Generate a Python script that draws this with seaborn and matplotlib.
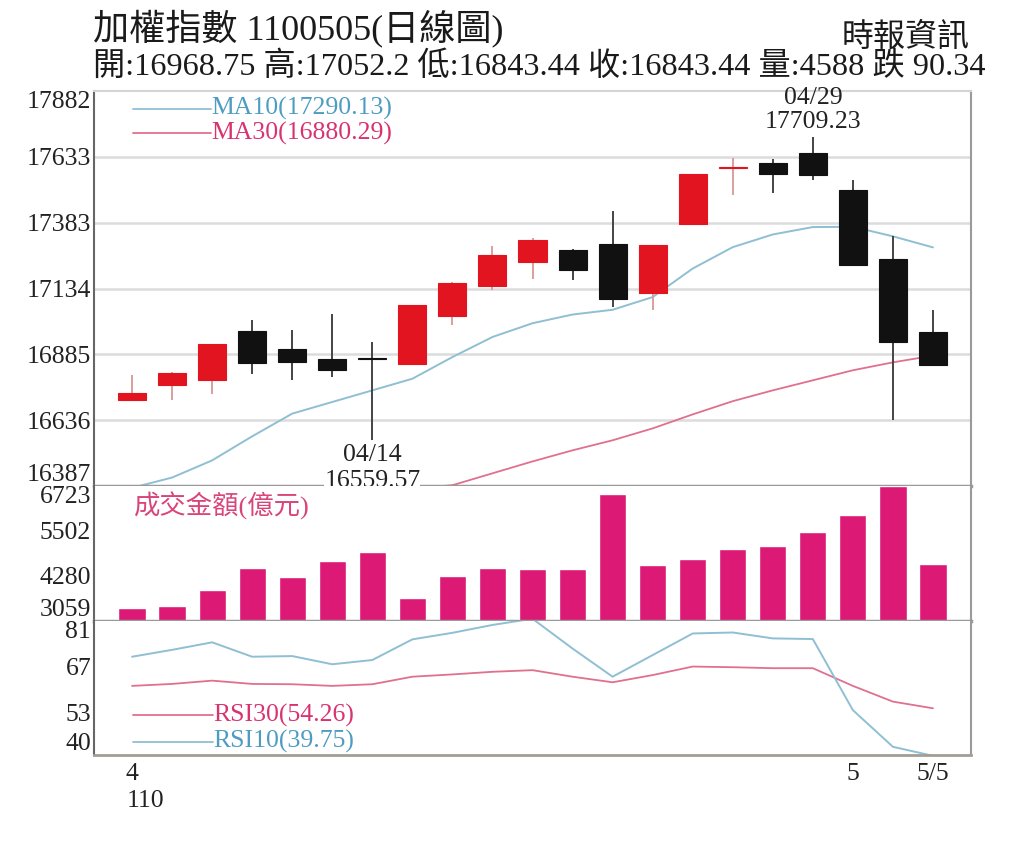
import matplotlib
matplotlib.use('Agg')
import matplotlib.pyplot as plt
import seaborn as sns
import numpy as np

# ---------------- data ----------------
dates = ['04/06', '04/07', '04/08', '04/09', '04/12', '04/13', '04/14', '04/15',
         '04/16', '04/19', '04/20', '04/21', '04/22', '04/23', '04/26', '04/27',
         '04/28', '04/29', '05/03', '05/04', '05/05']
opens = [16714, 16771, 16787, 16974, 16907, 16869, 16870, 16850, 17029, 17143, 17235,
         17282, 17302, 17119, 17380, 17590, 17609, 17647, 17506, 17247, 16968.75]
highs = [16806, 16817, 16925, 17017, 16979, 17037, 16932, 17071, 17160, 17295, 17325,
         17285, 17426, 17300, 17569, 17630, 17626, 17709.23, 17546, 17332, 17052.2]
lows = [16712, 16714, 16734, 16812, 16790, 16799, 16559.57, 16848, 16995, 17130, 17172,
        17165, 17064, 17052, 17380, 17487, 17496, 17546, 17220, 16638, 16843.44]
closes = [16738, 16815, 16923, 16852, 16856, 16825, 16866, 17071, 17157, 17263, 17319,
          17203, 17093, 17298, 17569, 17594, 17566, 17565, 17225, 16933.78, 16843.44]
ma10 = [16380, 16419, 16484, 16575, 16661, 16705, 16749, 16793, 16875, 16951, 17003,
        17036, 17054, 17102, 17210, 17291, 17339, 17367, 17368, 17332, 17290.13]
ma30 = [16290, 16305, 16318, 16332, 16345, 16356, 16366, 16378, 16390, 16435, 16480,
        16522, 16560, 16605, 16658, 16708, 16749, 16787, 16825, 16855, 16880.29]
volume = [3396, 3459, 3894, 4484, 4256, 4691, 4919, 3668, 4283, 4501, 4457,
          4457, 6505, 4574, 4737, 5009, 5099, 5480, 5934, 6723, 4588]
rsi10 = [70.0, 72.1, 74.4, 70.0, 70.2, 67.7, 69.0, 75.3, 77.3, 79.7, 81.6,
         72.5, 63.9, 70.5, 77.1, 77.4, 75.6, 75.4, 53.7, 42.5, 39.75]
rsi30 = [61.1, 61.7, 62.7, 61.7, 61.6, 61.1, 61.6, 63.9, 64.6, 65.4, 65.9,
         63.9, 62.2, 64.4, 67.0, 66.8, 66.5, 66.5, 61.1, 56.3, 54.26]
price_ticks = [16387, 16636, 16885, 17134, 17383, 17633, 17882]
vol_ticks = [3059, 4280, 5502, 6723]
rsi_ticks = [40, 53, 67, 81]
month_labels = {0: '4', 18: '5', 20: '5/5'}
year_label = '110'
title = '加權指數 1100505(日線圖)'
subtitle = '開:16968.75 高:17052.2 低:16843.44 收:16843.44 量:4588 跌 90.34'
source = '時報資訊'
ma10_label = 'MA10(17290.13)'
ma30_label = 'MA30(16880.29)'
rsi30_label = 'RSI30(54.26)'
rsi10_label = 'RSI10(39.75)'
vol_label = '成交金額(億元)'

# ---------------- style ----------------
sns.set_theme(style='white')
plt.rcParams['font.family'] = ['Liberation Serif', 'Noto Sans CJK TC']
plt.rcParams['axes.unicode_minus'] = False

RED = '#e2141f'
RED_WICK = '#d9a09c'
BLACK = '#111111'
BLACK_WICK = '#444444'
VOL = '#dc1a76'
BLUE_LINE = '#8fbfd2'
PINK_LINE = '#e0708e'
BLUE_TXT = '#4f9cc2'
PINK_TXT = '#d8336e'
SEP = '#9a9a9a'
FS = 18.5

W, H = 1024, 841
fig = plt.figure(figsize=(W / 100, H / 100), dpi=100)


def fx(px):
    return px / W


def fy(py):
    return 1 - py / H


left, right = 94, 971
ax_p = fig.add_axes([fx(left), fy(486), fx(right - left), fy(91) - fy(486)])
ax_v = fig.add_axes([fx(left), fy(620.7), fx(right - left), fy(486) - fy(620.7)])
ax_r = fig.add_axes([fx(left), fy(755), fx(right - left), fy(620.7) - fy(755)])

idx = np.arange(len(dates))
xlim = (-0.95, len(dates) - 0.05)

# ---------------- price panel ----------------
for t in price_ticks[1:-1]:
    ax_p.axhline(t, color='#dcdcdc', lw=1.8, zorder=0)

sns.lineplot(x=idx, y=ma30, ax=ax_p, color=PINK_LINE, lw=1.3, zorder=2)
sns.lineplot(x=idx, y=ma10, ax=ax_p, color=BLUE_LINE, lw=1.4, zorder=2)

o = np.array(opens, float)
c = np.array(closes, float)
up = c >= o
body_col = [RED if u else BLACK for u in up]
wick_col = [RED_WICK if u else BLACK_WICK for u in up]
ax_p.vlines(idx, lows, highs, colors=wick_col, lw=1.4, zorder=3)
heights = np.maximum(np.abs(c - o), 4)
bottoms = np.minimum(o, c)
ax_p.bar(idx, heights, bottom=bottoms, width=0.7, color=body_col,
         edgecolor=body_col, lw=0.8, zorder=4)

ax_p.set_xlim(*xlim)
ax_p.set_ylim(price_ticks[0], price_ticks[-1])
ax_p.set_yticks(price_ticks)
ax_p.set_yticklabels([str(t) for t in price_ticks])
ax_p.set_xticks([])
ax_p.set_xlabel('')
ax_p.set_ylabel('')

# legend lines
for yy, lab, lc, tc in [(0.955, ma10_label, BLUE_LINE, BLUE_TXT),
                        (0.893, ma30_label, PINK_LINE, PINK_TXT)]:
    ax_p.plot([0.02, 1.98], [yy, yy], color=lc, lw=1.3,
              transform=ax_p.get_xaxis_transform(), clip_on=False)
    ax_p.text(1.98, yy, lab, color=tc, fontsize=FS, ha='left', va='center',
              transform=ax_p.get_xaxis_transform())

# high / low annotations
ih = int(np.argmax(highs))
il = int(np.argmin(lows))
ax_p.annotate(f'{highs[ih]:.2f}', (ih, highs[ih]), xytext=(0, 15),
              textcoords='offset pixels', ha='center', va='center',
              fontsize=FS, color='#222222', annotation_clip=False)
ax_p.annotate(dates[ih], (ih, highs[ih]), xytext=(0, 39),
              textcoords='offset pixels', ha='center', va='center',
              fontsize=FS, color='#222222', annotation_clip=False)
ax_p.annotate(dates[il], (il, lows[il]), xytext=(0, -15),
              textcoords='offset pixels', ha='center', va='center',
              fontsize=FS, color='#222222', annotation_clip=False, zorder=6)
ax_p.annotate(f'{lows[il]:.2f}', (il, lows[il]), xytext=(0, -41),
              textcoords='offset pixels', ha='center', va='center',
              fontsize=FS, color='#222222', annotation_clip=False, zorder=6,
              bbox=dict(boxstyle='square,pad=0.0', fc='white', ec='none'))

# ---------------- volume panel ----------------
sns.barplot(x=dates, y=volume, order=dates, ax=ax_v, color=VOL,
            saturation=1, width=0.68, zorder=2)
ax_v.set_xlim(*xlim)
ax_v.set_ylim(vol_ticks[0], vol_ticks[-1])
ax_v.set_yticks(vol_ticks)
ax_v.set_yticklabels([str(t) for t in vol_ticks])
ax_v.set_xticks([])
ax_v.set_xlabel('')
ax_v.set_ylabel('')
ax_v.text(0.02, 0.855, vol_label, color='#d9457a', fontsize=19,
          ha='left', va='center', transform=ax_v.get_xaxis_transform())

# ---------------- RSI panel ----------------
sns.lineplot(x=idx, y=rsi30, ax=ax_r, color=PINK_LINE, lw=1.3)
sns.lineplot(x=idx, y=rsi10, ax=ax_r, color=BLUE_LINE, lw=1.4)
ax_r.set_xlim(*xlim)
ax_r.set_ylim(rsi_ticks[0], rsi_ticks[-1])
ax_r.set_yticks(rsi_ticks)
ax_r.set_yticklabels([str(t) for t in rsi_ticks])
ax_r.set_xticks(idx)
ax_r.set_xticklabels([month_labels.get(i, '') for i in idx])
ax_r.set_xlabel('')
ax_r.set_ylabel('')
for yy, lab, lc, tc in [(0.298, rsi30_label, PINK_LINE, PINK_TXT),
                        (0.099, rsi10_label, BLUE_LINE, BLUE_TXT)]:
    ax_r.plot([0.02, 2.03], [yy, yy], color=lc, lw=1.3,
              transform=ax_r.get_xaxis_transform())
    ax_r.text(2.03, yy, lab, color=tc, fontsize=FS, ha='left', va='center',
              transform=ax_r.get_xaxis_transform())
ax_r.annotate(year_label, (-0.14, 0), xycoords=('data', 'axes fraction'),
              xytext=(0, -46), textcoords='offset pixels', ha='left',
              va='center', fontsize=FS, color='#222222', annotation_clip=False)

# ---------------- common axis styling ----------------
for ax in (ax_p, ax_v, ax_r):
    ax.grid(False)
    ax.tick_params(axis='y', length=0, pad=2, labelsize=FS, labelcolor='#222222')
    labs = ax.get_yticklabels()
    labs[0].set_va('bottom')
    labs[-1].set_va('top')
    for s in ax.spines.values():
        s.set_visible(True)
    ax.spines['left'].set_color('#666666')
    ax.spines['left'].set_linewidth(1.5)
    ax.spines['right'].set_color(SEP)
    ax.spines['right'].set_linewidth(1.5)
    ax.set_facecolor('white')

ax_p.spines['top'].set_color('#d4d4d4')
ax_p.spines['top'].set_linewidth(1.5)
ax_p.spines['bottom'].set_color(SEP)
ax_p.spines['bottom'].set_linewidth(2.5)
ax_v.spines['top'].set_visible(False)
ax_v.spines['bottom'].set_color(SEP)
ax_v.spines['bottom'].set_linewidth(2.5)
ax_r.spines['top'].set_visible(False)
ax_r.spines['bottom'].set_color('#a39d94')
ax_r.spines['bottom'].set_linewidth(2)
ax_r.tick_params(axis='x', length=3, width=1, color='#999999', direction='out',
                 pad=3, labelsize=FS, labelcolor='#222222')

# ---------------- header ----------------
fig.text(fx(93), fy(28), title, fontsize=26, ha='left', va='center', color='#1a1a1a')
fig.text(fx(93), fy(67), subtitle, fontsize=23.2, ha='left', va='center', color='#1a1a1a')
fig.text(fx(970), fy(38), source, fontsize=23, ha='right', va='center', color='#1a1a1a')

fig.savefig('out.png', dpi=100, facecolor='white')
